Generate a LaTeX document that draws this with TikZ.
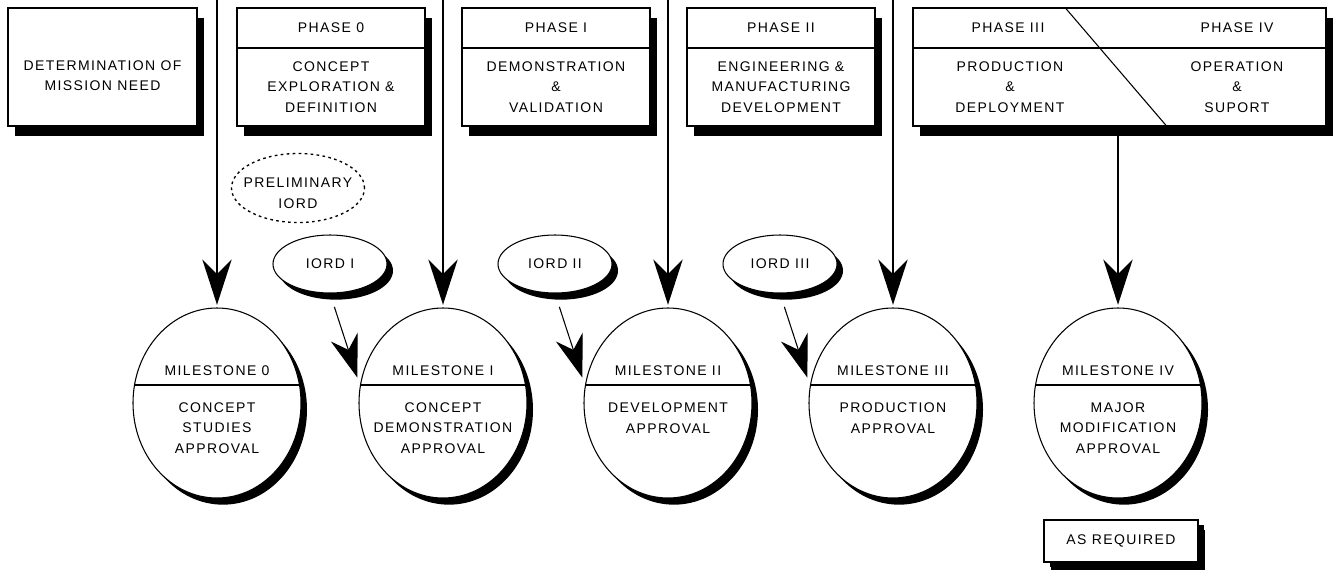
\documentclass[tikz,border=0pt]{standalone}
\usepackage{fontspec}
\setmainfont{Liberation Sans}[LetterSpace=10]
\usetikzlibrary{arrows.meta}
\usetikzlibrary{shapes.geometric}
\usetikzlibrary{shadows}
\usetikzlibrary{calc}

\begin{document}
\begin{tikzpicture}[x=0.75pt,y=-0.75pt,
  every node/.style={font=\fontsize{10.5}{15.4}\selectfont,align=center},
  box/.style={draw,line width=1.1pt,fill=white,inner sep=0pt,
    drop shadow={shadow xshift=5.25pt,shadow yshift=-7.5pt,opacity=1,fill=black}},
  phasehead/.style={box,minimum width=141pt,minimum height=30pt},
  phasebody/.style={box,minimum width=141pt,minimum height=58.5pt},
  mile/.style={ellipse,draw,line width=0.8pt,fill=white,inner sep=0pt,
    minimum width=126pt,minimum height=142.5pt,
    drop shadow={shadow xshift=4.5pt,shadow yshift=-5pt,opacity=1,fill=black},
    path picture={\draw[line width=1pt] ([yshift=13.5pt]path picture bounding box.west)
      -- ([yshift=13.5pt]path picture bounding box.east);}},
  iord/.style={ellipse,draw,line width=0.8pt,fill=white,inner sep=0pt,
    minimum width=85.5pt,minimum height=43.5pt,
    drop shadow={shadow xshift=4.5pt,shadow yshift=-5pt,opacity=1,fill=black}},
  phasearrow/.style={line width=1.3pt,shorten >=2pt,
    -{Stealth[length=34pt,width=22pt,inset=11pt]}},
  iordarrow/.style={line width=0.8pt,shorten <=10.5pt,shorten >=6pt,
    -{Stealth[length=32pt,width=21pt,inset=10pt]}}]
\useasboundingbox (0,0) rectangle (1333,569);

% mission need
\node[box,minimum width=141.75pt,minimum height=88.5pt] (need) at (102.5,67) {};
\node (needtxt) at (102.5,75.5) {DETERMINATION OF\\MISSION NEED};

% phases 0 - II
\foreach \n/\x/\rn/\body in {
  0/331/0/{CONCEPT\\EXPLORATION \&\\DEFINITION},
  1/556/I/{DEMONSTRATION\\\&\\VALIDATION},
  2/781/II/{ENGINEERING \&\\MANUFACTURING\\DEVELOPMENT}}
{
  \node[phasehead] (ph\n h) at (\x,28) {PHASE \rn};
  \node[phasebody] (ph\n b) at (\x,87) {\body};
}

% phases III and IV
\node[phasehead,minimum width=309.75pt] (ph34h) at (1119.5,28) {};
\node[phasebody,minimum width=309.75pt] (ph34b) at (1119.5,87) {};
\draw[line width=0.8pt] ($(ph34h.north west)!0.368!(ph34h.north east)$)
  -- ($(ph34b.south west)!0.615!(ph34b.south east)$);
\node (ph3h) at (1008,28) {PHASE III};
\node (ph4h) at (1237,28) {PHASE IV};
\node (ph3b) at (1010,87) {PRODUCTION\\\&\\DEPLOYMENT};
\node (ph4b) at (1237,87) {OPERATION\\\&\\SUPORT};

% milestones
\foreach \n/\x/\rn/\body/\yb in {
  0/217/0/{CONCEPT\\STUDIES\\APPROVAL}/428,
  1/443/I/{CONCEPT\\DEMONSTRATION\\APPROVAL}/428,
  2/668/II/{DEVELOPMENT\\APPROVAL}/418,
  3/893/III/{PRODUCTION\\APPROVAL}/418,
  4/1118/IV/{MAJOR\\MODIFICATION\\APPROVAL}/428}
{
  \node[mile] (m\n) at (\x,403) {};
  \node (m\n-t) at (\x,371) {MILESTONE \rn};
  \node (m\n-b) at (\x,\yb) {\body};
}

% arrows from the top
\foreach \n in {0,1,2,3}
{
  \coordinate (top\n) at (m\n |- 0,0);
  \draw[phasearrow] (top\n) -- (m\n.north);
}
\draw[phasearrow] (m4 |- ph34b.south) -- (m4.north);

% preliminary iord
\node[ellipse,draw,dashed,dash pattern=on 2pt off 2.5pt,line width=1pt,inner sep=0pt,
  minimum width=99.75pt,minimum height=51.75pt] (pre) at (298,188) {};
\node (pretxt) at (298,193) {PRELIMINARY\\IORD};

% iords
\foreach \n/\x/\rn in {1/330/I,2/555/II,3/780/III}
{
  \node[iord] (iord\n) at (\x,264) {IORD \rn};
  \draw[iordarrow] (iord\n.south) -- (m\n.168);
}

\node[box,minimum width=115.5pt,minimum height=31.5pt,
  drop shadow={shadow xshift=4.5pt,shadow yshift=-4pt,opacity=1,fill=black}]
  (asreq) at (1121,541) {AS REQUIRED};
\end{tikzpicture}
\end{document}
